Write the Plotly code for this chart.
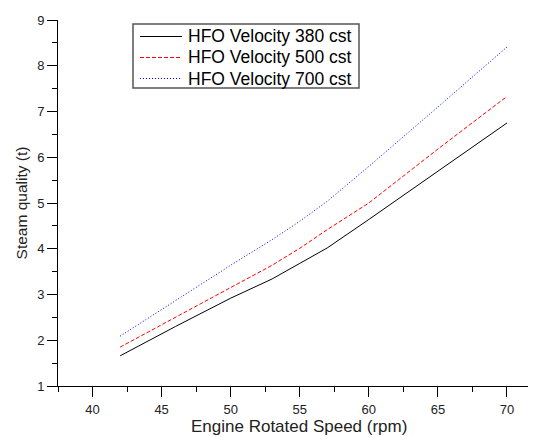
import plotly.graph_objects as go

speed = [42, 46, 50, 53, 55, 57, 60, 65, 70]
hfo_380 = [1.66, 2.30, 2.92, 3.34, 3.68, 4.02, 4.64, 5.70, 6.75]
hfo_500 = [1.85, 2.50, 3.15, 3.64, 4.01, 4.42, 5.00, 6.18, 7.33]
hfo_700 = [2.09, 2.87, 3.64, 4.20, 4.60, 5.04, 5.80, 7.10, 8.41]

series = [
    ("HFO Velocity 380 cst", hfo_380, "black", "solid"),
    ("HFO Velocity 500 cst", hfo_500, "red", "4px,2px"),
    ("HFO Velocity 700 cst", hfo_700, "blue", "1px,2px"),
]

# plot area in page pixels (page body adds an 8px margin, compensated below)
L, R, T, B = 58, 536, 20, 386


def px(x):
    return (x - L) / (R - L)


def py(y):
    return (B - y) / (B - T)


fig = go.Figure()
for name, vals, color, dash in series:
    fig.add_trace(go.Scatter(
        x=speed, y=vals, mode="lines", name=name, showlegend=False,
        line=dict(color=color, width=1, dash=dash),
    ))

# legend box drawn by hand so the rows sit as tight as in the original
fig.add_shape(type="rect", xref="paper", yref="paper",
              x0=px(133), x1=px(359), y0=py(88), y1=py(24),
              line=dict(color="#555", width=1.5), fillcolor="white", layer="above")
for i, (name, vals, color, dash) in enumerate(series):
    row = 36.5 + i * 21
    fig.add_shape(type="line", xref="paper", yref="paper",
                  x0=px(140), x1=px(182), y0=py(row), y1=py(row),
                  line=dict(color=color, width=1.2, dash=dash), layer="above")
    fig.add_annotation(xref="paper", yref="paper", x=px(186), y=py(row),
                       xanchor="left", yanchor="middle", showarrow=False,
                       text=name, font=dict(size=17.5, color="black"))

# x title as an annotation, tucked against the bottom edge like the original
fig.add_annotation(xref="paper", yref="paper", x=px(299), y=py(437),
                   xanchor="center", yanchor="bottom", showarrow=False, borderpad=0,
                   text="Engine Rotated Speed (rpm)", font=dict(size=17, color="#222"))

axis_common = dict(
    showgrid=False, zeroline=False, showline=True, linecolor="black", linewidth=1,
    ticks="outside", ticklen=10, tickcolor="black", automargin=False,
    tickfont=dict(size=13, color="#222"),
    minor=dict(ticks="outside", ticklen=5, tickcolor="black"),
)

fig.update_xaxes(
    range=[37.5, 72.1], tick0=40, dtick=5, minor_dtick=2.5, ticklabelstandoff=1,
    **axis_common,
)
fig.update_yaxes(
    range=[1, 9], dtick=1, minor_dtick=0.5,
    title=dict(text="Steam quality (t)", font=dict(size=15.5, color="#222"), standoff=5),
    **axis_common,
)

fig.update_layout(
    width=528, height=429,
    margin=dict(l=L - 8, r=0, t=T - 8, b=429 + 8 - B),
    plot_bgcolor="white", paper_bgcolor="white",
    font=dict(family="Liberation Sans, Arial, sans-serif"),
)

fig.write_html("out.html")
